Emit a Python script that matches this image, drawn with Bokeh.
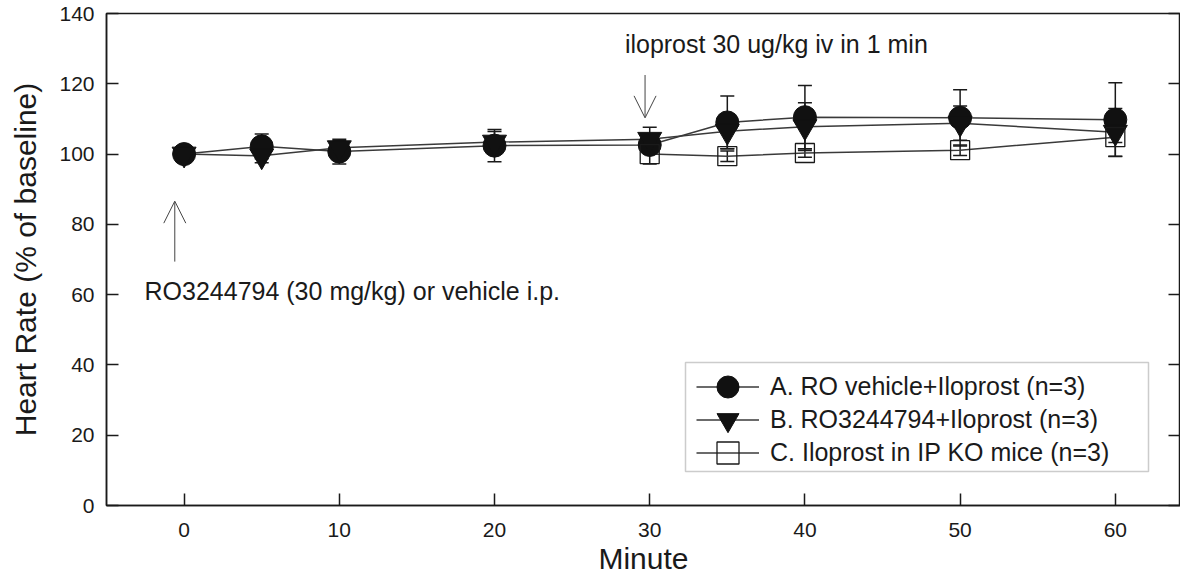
from bokeh.plotting import figure
from bokeh.models import (ColumnDataSource, Whisker, TeeHead, Legend, LegendItem,
                          LinearAxis, Arrow, OpenHead, Label, BoxAnnotation,
                          FixedTicker, Range1d, CustomJSTickFormatter)
from bokeh.embed import file_html
from bokeh.resources import INLINE

# ---- data ----
minutes_ab = [0, 5, 10, 20, 30, 35, 40, 50, 60]
series_a = [100.0, 102.2, 100.7, 102.4, 102.6, 109.0, 110.5, 110.3, 109.8]
err_a = [1.0, 3.5, 3.5, 4.6, 1.5, 7.5, 9.0, 8.0, 10.5]
series_b = [100.0, 99.5, 101.8, 103.4, 104.2, 106.5, 107.8, 108.8, 106.2]
err_b = [1.0, 2.0, 2.0, 3.0, 3.4, 5.0, 6.8, 4.9, 6.8]
minutes_c = [30, 35, 40, 50, 60]
series_c = [100.0, 99.4, 100.3, 101.1, 104.8]
err_c = [2.8, 1.5, 1.2, 1.5, 1.5]

label_a = "A. RO vehicle+Iloprost (n=3)"
label_b = "B. RO3244794+Iloprost (n=3)"
label_c = "C. Iloprost in IP KO mice (n=3)"

x_ticks = [0, 10, 20, 30, 40, 50, 60]
y_ticks = [0, 20, 40, 60, 80, 100, 120, 140]

FONT = "Liberation Sans"
INK = "#1a1a1a"
LINE = "#3a3a3a"

p = figure(width=1180, height=577,
           x_range=Range1d(-5, 64.2), y_range=Range1d(0, 140),
           output_backend="svg", toolbar_location=None,
           min_border_left=106, min_border_top=13, min_border_right=0,
           min_border_bottom=0, background_fill_color="white",
           border_fill_color="white")
p.xgrid.visible = False
p.ygrid.visible = False
p.outline_line_color = INK
p.outline_line_width = 1.5

for ax in (p.xaxis[0], p.yaxis[0]):
    ax.major_tick_in = 12
    ax.major_tick_out = 0
    ax.minor_tick_line_color = None
    ax.axis_line_color = INK
    ax.axis_line_width = 1.5
    ax.major_tick_line_color = INK
    ax.major_tick_line_width = 1.5
    ax.major_label_text_font = FONT
    ax.major_label_text_font_size = "21px"
    ax.major_label_text_color = INK
    ax.axis_label_text_font = FONT
    ax.axis_label_text_font_size = "30px"
    ax.axis_label_text_font_style = "normal"
    ax.axis_label_text_color = INK

p.xaxis.ticker = FixedTicker(ticks=x_ticks)
p.yaxis.ticker = FixedTicker(ticks=y_ticks)
p.xaxis.axis_label = "Minute"
p.yaxis.axis_label = "Heart Rate (% of baseline)"
p.xaxis.major_label_standoff = 17
p.yaxis.major_label_standoff = 12
p.xaxis.axis_label_standoff = 2
p.yaxis.axis_label_standoff = 14

right = LinearAxis(ticker=FixedTicker(ticks=y_ticks),
                   formatter=CustomJSTickFormatter(code="return ''"),
                   major_tick_in=12, major_tick_out=0, axis_line_color=None,
                   minor_tick_line_color=None, major_label_standoff=0,
                   major_tick_line_color=INK, major_tick_line_width=1.5)
p.add_layout(right, "right")

src_a = ColumnDataSource(dict(x=minutes_ab, y=series_a,
                              lo=[v - e for v, e in zip(series_a, err_a)],
                              hi=[v + e for v, e in zip(series_a, err_a)]))
src_b = ColumnDataSource(dict(x=minutes_ab, y=series_b,
                              lo=[v - e for v, e in zip(series_b, err_b)],
                              hi=[v + e for v, e in zip(series_b, err_b)]))
src_c = ColumnDataSource(dict(x=minutes_c, y=series_c,
                              lo=[v - e for v, e in zip(series_c, err_c)],
                              hi=[v + e for v, e in zip(series_c, err_c)]))

for src in (src_a, src_b, src_c):
    w = Whisker(source=src, base="x", upper="hi", lower="lo",
                line_color=INK, line_width=1.5, level="underlay",
                upper_head=TeeHead(size=14, line_color=INK, line_width=1.5),
                lower_head=TeeHead(size=14, line_color=INK, line_width=1.5))
    p.add_layout(w)

la = p.line("x", "y", source=src_a, line_color=LINE, line_width=1.5)
lb = p.line("x", "y", source=src_b, line_color=LINE, line_width=1.5)
lc = p.line("x", "y", source=src_c, line_color=LINE, line_width=1.5)
sa = p.scatter("x", "y", source=src_a, marker="circle", size=23,
               fill_color="#111111", line_color="#111111")
sb = p.scatter("x", "y", source=src_b, marker="inverted_triangle", size=24,
               fill_color="#111111", line_color="#111111")
sc = p.scatter("x", "y", source=src_c, marker="square", size=19,
               fill_alpha=0, line_color=INK, line_width=1.3)

# one legend per row so that rows can sit close while markers stay large
rows = [(label_a, [la, sa], 91), (label_b, [lb, sb], 58), (label_c, [lc, sc], 25)]
for text, rends, ypos in rows:
    lg = Legend(items=[LegendItem(label=text, renderers=rends)],
                location=(590, ypos), glyph_width=63, glyph_height=55,
                spacing=0, padding=0, margin=0, label_standoff=11,
                label_text_font=FONT, label_text_font_size="25px",
                label_text_color=INK, border_line_color=None,
                background_fill_alpha=0)
    p.add_layout(lg)

box = BoxAnnotation(left=579, right=1042, top=143, bottom=34,
                    left_units="screen", right_units="screen",
                    top_units="screen", bottom_units="screen",
                    fill_alpha=0, line_color="#555555", line_width=1.5,
                    level="overlay")
p.add_layout(box)

# annotations
arrow_dose_x, arrow_dose_y = -0.6, (69.4, 86.6)
arrow_ilo_x, arrow_ilo_y = 29.7, (122.5, 110.3)
p.add_layout(Arrow(x_start=arrow_dose_x, y_start=arrow_dose_y[0],
                   x_end=arrow_dose_x, y_end=arrow_dose_y[1],
                   line_color="#444444", line_width=1,
                   end=OpenHead(size=22, line_color="#444444", line_width=1)))
p.add_layout(Arrow(x_start=arrow_ilo_x, y_start=arrow_ilo_y[0],
                   x_end=arrow_ilo_x, y_end=arrow_ilo_y[1],
                   line_color="#444444", line_width=1,
                   end=OpenHead(size=22, line_color="#444444", line_width=1)))
p.add_layout(Label(x=-2.55, y=61.1, text="RO3244794 (30 mg/kg) or vehicle i.p.",
                   text_baseline="middle", text_font=FONT, text_font_size="25px",
                   text_color=INK))
p.add_layout(Label(x=28.4, y=131.4, text="iloprost 30 ug/kg iv in 1 min",
                   text_baseline="middle", text_font=FONT, text_font_size="25px",
                   text_color=INK))

open("out.html", "w").write(file_html(p, INLINE))
